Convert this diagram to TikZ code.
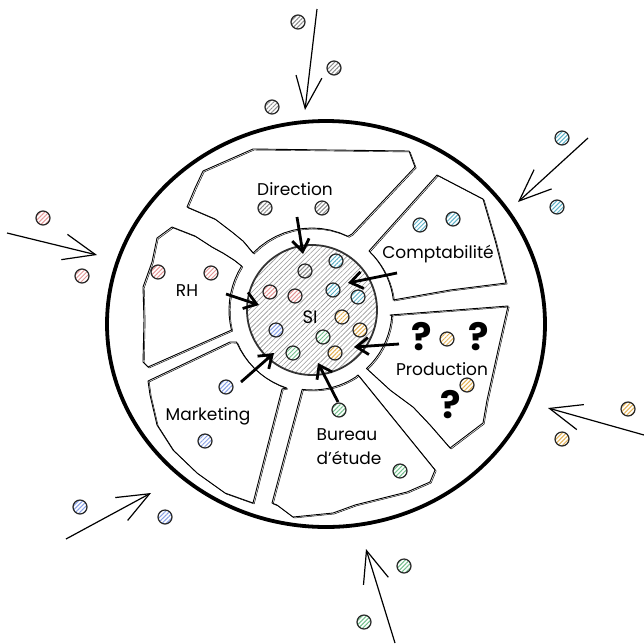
\documentclass[tikz,border=0pt]{standalone}
\usepackage{fontspec}
\setmainfont{Poppins}
\usetikzlibrary{arrows.meta,patterns.meta}
\definecolor{cgray}{RGB}{140,140,140}
\definecolor{ccyan}{RGB}{95,178,200}
\definecolor{cred}{RGB}{228,150,150}
\definecolor{cblue}{RGB}{135,160,230}
\definecolor{cgreen}{RGB}{115,192,140}
\definecolor{corange}{RGB}{228,178,85}
\def\pDir{(203,171) -- (195,188) -- (187,207) -- (215,219) -- (232,232) -- (243,241) -- plot[domain=-136:-64, samples=12] ({312+82*cos(\x)},{310+82*sin(\x)}) -- (352,234) -- (415,167) -- (409,151) -- (253,149) -- cycle}
\def\pRH{(172,227) -- (195,236) -- (212,247) -- (223,253) -- (234,260) -- plot[domain=212:166, samples=10] ({312+83*cos(\x)},{310+83*sin(\x)}) -- (148,367) -- (143,362) -- (144,320) -- (143,287) -- (152,262) -- (157,238) -- cycle}
\def\pMk{(148,381) -- (230,342) -- plot[domain=157:108, samples=10] ({312+82*cos(\x)},{310+82*sin(\x)}) -- (282,389) -- (253,503) -- (225,493) -- (197,473) -- (173,450) -- (157,425) -- (150,395) -- cycle}
\def\pBu{(272,503) -- (302,390) -- plot[domain=97:57, samples=10] ({312+80*cos(\x)},{310+80*sin(\x)}) -- (358,375) -- (435,470) -- (430,482) -- (407,492) -- (355,505) -- (333,513) -- (293,517) -- (277,505) -- cycle}
\def\pPr{(390,315) -- (508,306) -- (498,350) -- (487,400) -- (483,423) -- (450,448) -- (430,425) -- (413,407) -- (390,390) -- plot[domain=47:4, samples=10] ({312+80*cos(\x)},{310+80*sin(\x)}) -- cycle}
\def\pCo{(437,175) -- (483,199) -- (495,240) -- (506,283) -- (450,290) -- (393,300) -- plot[domain=-7:-46, samples=10] ({312+82*cos(\x)},{310+82*sin(\x)}) -- cycle}
\begin{document}
\begin{tikzpicture}[x=1pt,y=-1pt,
  seg/.style={line width=0.9pt, line join=round},
  segb/.style={line width=0.45pt, line join=round},
  dot/.style={circle, minimum size=14pt, inner sep=0pt, draw=black!85, line width=1.2pt,
    preaction={fill=white}, pattern={Lines[angle=45,distance=3pt,line width=1pt]}, pattern color=#1},
  lbl/.style={font=\fontsize{17}{19}\selectfont, inner sep=0pt},
  silb/.style={font=\fontsize{18}{20}\selectfont, inner sep=0pt},
  qm/.style={font=\fontsize{38}{40}\selectfont\bfseries, inner sep=0pt},
  inarrow/.style={line width=2.8pt, -{Straight Barb[length=12pt,width=17pt]}},
  outarrow/.style={line width=1.2pt, -{Straight Barb[length=32pt,width=26pt]}}]
\useasboundingbox (0,0) rectangle (644,643);
\fill[white] (0,0) rectangle (644,643);
% outer circle
\draw[line width=3.8pt] (326,324) ellipse [x radius=219, y radius=203];
% segments
\foreach \p in {\pDir,\pRH,\pMk,\pBu,\pPr,\pCo}{
  \draw[seg] \p;
  \draw[segb, shift={(1.2,1)}] \p;
}
% SI
\node[circle, minimum size=130pt, inner sep=0pt, draw=black!80, line width=1.8pt,
  preaction={fill=white}, pattern={Lines[angle=45,distance=3.5pt,line width=0.6pt]}, pattern color=black!40] (si) at (312,310) {};
\node[silb] (silbl) at (310,317) {SI};
% labels
\node[lbl] (ldir) at (295,189) {Direction};
\node[lbl] (lrh) at (187,291) {RH};
\node[lbl] (lco) at (438,254) {Comptabilité};
\node[lbl] (lpr) at (442,369) {Production};
\node[lbl] (lmk) at (208,416) {Marketing};
\node[lbl] (lbu1) at (347,435) {Bureau};
\node[lbl] (lbu2) at (349,458) {d'étude};
\node[qm] (q1) at (422,337) {?};
\node[qm] (q2) at (479,337) {?};
\node[qm] (q3) at (451,405) {?};
% dots in segments
\node[dot=cgray] (dd1) at (265,208) {};
\node[dot=cgray] (dd2) at (322,208) {};
\node[dot=cred] (dr1) at (158,272) {};
\node[dot=cred] (dr2) at (211,273) {};
\node[dot=ccyan] (dc1) at (420,225) {};
\node[dot=ccyan] (dc2) at (453,219) {};
\node[dot=corange] (dp1) at (447,339) {};
\node[dot=corange] (dp2) at (467,385) {};
\node[dot=cblue] (dm1) at (226,387) {};
\node[dot=cblue] (dm2) at (205,441) {};
\node[dot=cgreen] (db1) at (339,410) {};
\node[dot=cgreen] (db2) at (400,471) {};
% dots inside SI
\node[dot=cgray] (s1) at (305,271) {};
\node[dot=ccyan] (s2) at (336,261) {};
\node[dot=cred] (s3) at (270,292) {};
\node[dot=cred] (s4) at (295,296) {};
\node[dot=ccyan] (s5) at (333,290) {};
\node[dot=ccyan] (s6) at (358,297) {};
\node[dot=corange] (s7) at (342,317) {};
\node[dot=corange] (s8) at (360,330) {};
\node[dot=cblue] (s9) at (276,330) {};
\node[dot=cgreen] (s10) at (323,337) {};
\node[dot=cgreen] (s11) at (293,353) {};
\node[dot=corange] (s12) at (335,353) {};
% outside dots
\node[dot=cgray] (o1) at (298,22) {};
\node[dot=cgray] (o2) at (334,68) {};
\node[dot=cgray] (o3) at (272,107) {};
\node[dot=ccyan] (o4) at (562,138) {};
\node[dot=ccyan] (o5) at (557,207) {};
\node[dot=cred] (o6) at (43,218) {};
\node[dot=cred] (o7) at (82,276) {};
\node[dot=corange] (o8) at (628,409) {};
\node[dot=corange] (o9) at (562,439) {};
\node[dot=cblue] (o10) at (80,507) {};
\node[dot=cblue] (o11) at (165,517) {};
\node[dot=cgreen] (o12) at (404,566) {};
\node[dot=cgreen] (o13) at (364,622) {};
% inner arrow coordinates
\coordinate (aDs) at (297,217); \coordinate (aDe) at (303,254);
\coordinate (aRs) at (226,294); \coordinate (aRe) at (259,305);
\coordinate (aCs) at (397,273); \coordinate (aCe) at (348,283);
\coordinate (aPs) at (399,344); \coordinate (aPe) at (354,347);
\coordinate (aBs) at (338,402); \coordinate (aBe) at (318,363);
\coordinate (aMs) at (241,382); \coordinate (aMe) at (274,353);
\draw[inarrow] (aDs) -- (aDe);
\draw[inarrow] (aRs) -- (aRe);
\draw[inarrow] (aCs) -- (aCe);
\draw[inarrow] (aPs) -- (aPe);
\draw[inarrow] (aBs) -- (aBe);
\draw[inarrow] (aMs) -- (aMe);
% outer arrows
\coordinate (bTs) at (317,9); \coordinate (bTe) at (305,110);
\coordinate (bRs) at (588,138); \coordinate (bRe) at (518,202);
\coordinate (bLs) at (7,233); \coordinate (bLe) at (97,255);
\coordinate (bEs) at (644,435); \coordinate (bEe) at (548,408);
\coordinate (bBLs) at (66,539); \coordinate (bBLe) at (151,493);
\coordinate (bBs) at (395,643); \coordinate (bBe) at (366,549);
\draw[outarrow] (bTs) -- (bTe);
\draw[outarrow] (bRs) -- (bRe);
\draw[outarrow] (bLs) -- (bLe);
\draw[outarrow] (bEs) -- (bEe);
\draw[outarrow] (bBLs) -- (bBLe);
\draw[outarrow] (bBs) -- (bBe);
\end{tikzpicture}
\end{document}
